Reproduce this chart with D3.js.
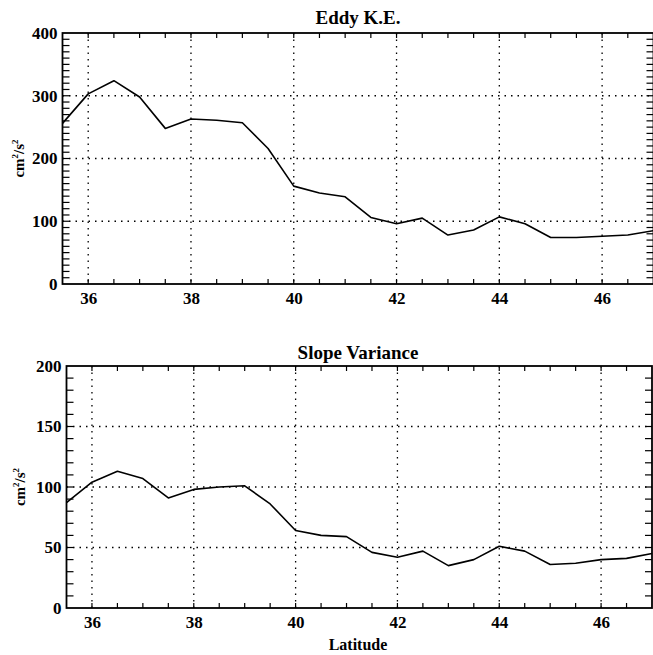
<!DOCTYPE html>
<html><head><meta charset="utf-8">
<script src="https://cdn.jsdelivr.net/npm/d3@7"></script>
<style>body{margin:0;background:#fff}svg{display:block}</style>
</head><body>
<svg id="c" width="653" height="655"></svg>
<script>
const latitude = [35.5,36,36.5,37,37.5,38,38.5,39,39.5,40,40.5,41,41.5,42,42.5,43,43.5,44,44.5,45,45.5,46,46.5,47];
const eddyKE = [256,303,324,298,248,263,261,257,216,156,145,139,106,96,105,78,86,107,96,74,74,76,78,85];
const slopeVar = [87,104,113,107,91,98,100,101,86,64,60,59,46,42,47,35,40,51,47,36,37,40,41,45];
const xTicks = [36,38,40,42,44,46];
const topYTicks = [0,100,200,300,400];
const botYTicks = [0,50,100,150,200];

const FONT = "'Liberation Serif', 'Times New Roman', Times, 'DejaVu Serif', serif";
const svg = d3.select("#c").style("font-family", FONT);

function styleText(sel, size){
  sel.style("font-family", FONT).style("font-weight","bold").style("font-size", size+"px").attr("fill","#000");
}

function panel(cfg){
  const {left,right,top,bottom,ymax,yTicks,yMinor,data,title,titleY,ylabX} = cfg;
  const x = d3.scaleLinear().domain([35.5,47]).range([left,right]);
  const y = d3.scaleLinear().domain([0,ymax]).range([bottom,top]);
  const g = svg.append("g");
  g.selectAll(".gx").data(xTicks).enter().append("line")
    .attr("x1",d=>x(d)).attr("x2",d=>x(d)).attr("y1",top).attr("y2",bottom)
    .attr("stroke","#000").attr("stroke-width",1.3).attr("stroke-dasharray","1.5,5");
  g.selectAll(".gy").data(yTicks.filter(d=>d>0&&d<ymax)).enter().append("line")
    .attr("y1",d=>y(d)).attr("y2",d=>y(d)).attr("x1",left).attr("x2",right)
    .attr("stroke","#000").attr("stroke-width",1.3).attr("stroke-dasharray","1.5,5");
  const xm = d3.range(36,47,0.5);
  const ym = d3.range(yMinor, ymax, yMinor);
  const tk = g.append("g").attr("stroke","#000").attr("stroke-width",1.2);
  xm.forEach(v=>{
    tk.append("line").attr("x1",x(v)).attr("x2",x(v)).attr("y1",bottom).attr("y2",bottom-5);
    tk.append("line").attr("x1",x(v)).attr("x2",x(v)).attr("y1",top).attr("y2",top+5);
  });
  ym.forEach(v=>{
    tk.append("line").attr("x1",left).attr("x2",left+7).attr("y1",y(v)).attr("y2",y(v));
    tk.append("line").attr("x1",right).attr("x2",right-7).attr("y1",y(v)).attr("y2",y(v));
  });
  g.append("rect").attr("x",left).attr("y",top).attr("width",right-left).attr("height",bottom-top)
    .attr("fill","none").attr("stroke","#000").attr("stroke-width",1.8);
  const ax = g.append("g").attr("transform",`translate(0,${bottom})`)
    .call(d3.axisBottom(x).tickValues(xTicks).tickSize(0).tickPadding(8).tickFormat(d3.format("d")));
  ax.attr("font-family",null).attr("font-size",null);
  ax.select(".domain").remove();
  styleText(ax.selectAll("text"),17);
  const ay = g.append("g").attr("transform",`translate(${left},0)`)
    .call(d3.axisLeft(y).tickValues(yTicks).tickSize(0).tickPadding(5).tickFormat(d3.format("d")));
  ay.attr("font-family",null).attr("font-size",null);
  ay.select(".domain").remove();
  styleText(ay.selectAll("text"),17);
  const line = d3.line().x((d,i)=>x(latitude[i])).y(d=>y(d));
  g.append("path").datum(data).attr("d",line).attr("fill","none").attr("stroke","#000").attr("stroke-width",1.6).attr("stroke-linejoin","round");
  styleText(g.append("text").attr("x",358).attr("y",titleY).attr("text-anchor","middle").text(title),19);
  const yl = g.append("text").attr("transform",`translate(${ylabX},${(top+bottom)/2}) rotate(-90)`).attr("text-anchor","middle");
  styleText(yl,15);
  yl.append("tspan").text("cm");
  yl.append("tspan").style("font-size","9px").attr("dy",-6).text("2");
  yl.append("tspan").attr("dy",6).text("/s");
  yl.append("tspan").style("font-size","9px").attr("dy",-6).text("2");
}

panel({left:62.5,right:653.5,top:33,bottom:284,ymax:400,yTicks:topYTicks,yMinor:10,data:eddyKE,title:"Eddy K.E.",titleY:24,ylabX:24});
panel({left:66.5,right:652,top:366,bottom:608,ymax:200,yTicks:botYTicks,yMinor:10,data:slopeVar,title:"Slope Variance",titleY:359,ylabX:25});
styleText(svg.append("text").attr("x",358).attr("y",650).attr("text-anchor","middle").text("Latitude"),16);
</script>
</body></html>
